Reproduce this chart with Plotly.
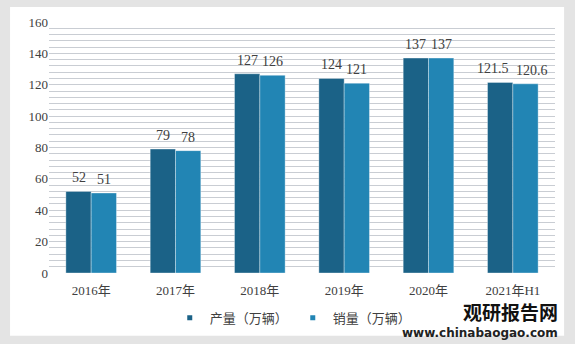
import plotly.graph_objects as go

categories = ["2016年", "2017年", "2018年", "2019年", "2020年", "2021年H1"]
production = [52, 79, 127, 124, 137, 121.5]
sales = [51, 78, 126, 121, 137, 120.6]
prod_labels = ["52", "79", "127", "124", "137", "121.5"]
sales_labels = ["51", "78", "126", "121", "137", "120.6"]
y_ticks = [0, 20, 40, 60, 80, 100, 120, 140, 160]
series_names = ["产量（万辆）", "销量（万辆）"]
series_colors = ["#1b6287", "#2285b4"]

FONT = "Liberation Serif, Noto Sans CJK SC, serif"
W, H = 575, 344
ML, MR, MT, MB = 49, 20, 22, 71
BARGAP = 0.4
LABEL_SIZE = 14

fig = go.Figure()
for vals, name, color in [(production, series_names[0], series_colors[0]),
                          (sales, series_names[1], series_colors[1])]:
    fig.add_trace(go.Bar(
        x=categories, y=vals, name=name, showlegend=False,
        marker=dict(color=color, line=dict(color="rgba(255,255,255,0.35)", width=1)),
    ))
# legend entries with small square markers
for name, color in zip(series_names, series_colors):
    fig.add_trace(go.Scatter(
        x=[None], y=[None], mode="markers", name=name,
        marker=dict(symbol="square", size=5, color=color),
    ))

# data labels above each bar, offset to the grouped bar centres
cat_px = (W - ML - MR) / len(categories)
bar_px = cat_px * (1 - BARGAP) / 2
for vals, labels, sign in [(production, prod_labels, -1), (sales, sales_labels, 1)]:
    for c, v, t in zip(categories, vals, labels):
        est_w = len(t) * LABEL_SIZE * 0.5
        extra = max(0.0, (est_w - bar_px) / 2 + 2)
        fig.add_annotation(x=c, y=v, text=t, showarrow=False, xanchor="center",
                           yanchor="bottom", xshift=sign * (bar_px / 2 + extra), yshift=4,
                           font=dict(size=LABEL_SIZE, color="#404040", family=FONT))

fig.update_layout(
    width=W, height=H,
    margin=dict(l=ML, r=MR, t=MT, b=MB, autoexpand=False),
    paper_bgcolor="#e4e4e4",
    plot_bgcolor="#e9eff5",
    barmode="group", bargap=BARGAP, bargroupgap=0,
    font=dict(family=FONT, size=13, color="#404040"),
    showlegend=True,
    legend=dict(orientation="h", x=0.51, xanchor="center", xref="container",
                y=0.076, yanchor="middle", yref="container",
                font=dict(size=13, color="#404040", family="Noto Sans CJK SC"),
                bgcolor="rgba(0,0,0,0)", itemwidth=30, tracegroupgap=0),
    shapes=[dict(type="rect", xref="paper", yref="paper",
                 x0=-0.077, x1=1.018, y0=-0.25, y1=1.06,
                 fillcolor="white", line=dict(width=0), layer="below")],
)
fig.update_xaxes(showline=False, ticks="", ticklabelstandoff=8,
                 tickfont=dict(size=13, color="#404040"))
fig.update_yaxes(range=[0, 160], tickvals=y_ticks, showline=False,
                 gridcolor="#c9cdd3", gridwidth=1, zeroline=False,
                 minor=dict(dtick=4, showgrid=True, gridcolor="#c9cdd3", gridwidth=1),
                 tickfont=dict(size=13, color="#404040"))

fig.add_annotation(xref="paper", yref="paper", x=1.01, y=-0.155, xanchor="right", yanchor="middle",
                   text="<b>观研报告网</b>", showarrow=False,
                   font=dict(size=19, color="#111111", family="Noto Sans CJK SC"))
fig.add_annotation(xref="paper", yref="paper", x=1.01, y=-0.238, xanchor="right", yanchor="middle",
                   text="<b>www.chinabaogao.com</b>", showarrow=False,
                   font=dict(size=12, color="#222222", family="DejaVu Sans"))

fig.write_html("out.html")
